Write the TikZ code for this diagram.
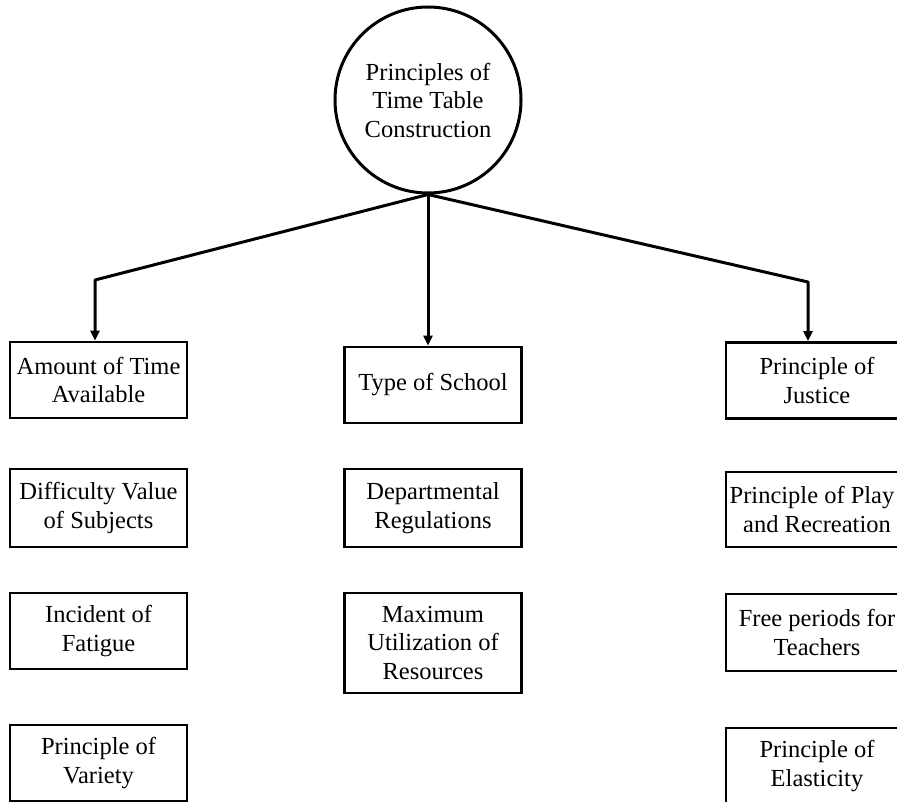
\documentclass[tikz,border=0pt]{standalone}
\usepackage{fontspec}
\setmainfont{Liberation Serif}
\usetikzlibrary{arrows.meta}
\begin{document}
\begin{tikzpicture}[x=1pt,y=-1pt,
  every node/.style={font=\fontsize{24.5}{28.5}\selectfont},
  pbox/.style={draw,line width=2.8pt,rectangle,minimum width=177pt,minimum height=76pt,align=center,inner sep=1pt},
  rbox/.style={pbox,minimum width=182pt},
  hub/.style={draw,line width=3pt,circle,minimum size=186pt,align=center,inner sep=0pt},
  conn/.style={line width=3pt,-{Triangle[length=10pt,width=9pt]},line join=round}]
\useasboundingbox (0,0) rectangle (897,802);
\clip (0,0) rectangle (897,802);
\node[hub] (c) at (428,100) {Principles of\\Time Table\\Construction};
% row 1
\node[pbox] (a1) at (98.5,380) {Amount of Time\\Available};
\node[pbox] (b1) at (433,385) {Type of School};
\node[rbox] (r1) at (817,380.5) {Principle of\\Justice};
% row 2
\node[pbox,minimum height=78pt] (a2) at (98.5,508) {Difficulty Value\\of Subjects};
\node[pbox,minimum height=78pt] (b2) at (433,508) {Departmental\\Regulations};
\node[rbox,minimum height=75pt] (r2) at (817,509.5) {Principle of Play\hspace*{10pt}\\and Recreation};
% row 3
\node[pbox] (a3) at (98.5,631) {Incident of\\Fatigue};
\node[pbox,minimum height=100pt] (b3) at (433,643) {Maximum\\Utilization of\\Resources};
\node[rbox,minimum height=77pt] (r3) at (817,632.5) {Free periods for\\Teachers};
% row 4
\node[pbox] (a4) at (98.5,763) {Principle of\\Variety};
\node[rbox] (r4) at (817,766) {Principle of\\Elasticity};
% connectors
\coordinate (kL) at (95,280);
\coordinate (kR) at (808,282);
\draw[conn] (c.south) -- (kL) -- (kL |- a1.north);
\draw[conn] (c.south) -- (c.south |- b1.north);
\draw[conn] (c.south) -- (kR) -- (kR |- r1.north);
\end{tikzpicture}
\end{document}
